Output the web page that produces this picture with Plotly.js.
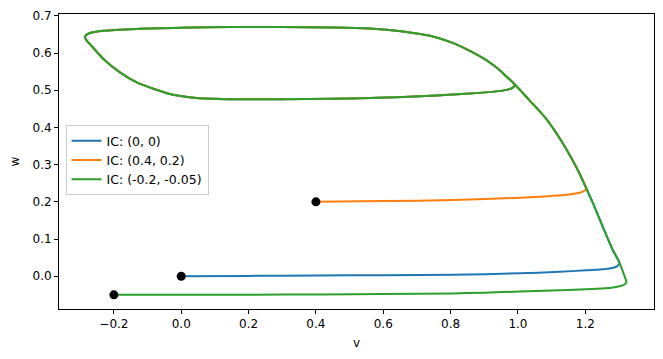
<!DOCTYPE html>
<html>
<head>
<meta charset="utf-8">
<script src="https://cdn.plot.ly/plotly-3.0.1.min.js"></script>
<style>html,body{margin:0;padding:0;background:#fff}#chart{width:663px;height:359px}</style>
</head>
<body>
<div id="chart"></div>
<script>
// Initial conditions
const icLabels = ["IC: (0, 0)", "IC: (0.4, 0.2)", "IC: (-0.2, -0.05)"];
const icV = [0, 0.4, -0.2];
const icW = [0, 0.2, -0.05];
const colors = ["#1f77b4", "#ff7f0e", "#2ca02c"];

// Transient parts
const blueV = [0, 0.2, 0.4, 0.6, 0.807, 1.005, 1.124, 1.203, 1.245, 1.272, 1.29, 1.297, 1.302];
const blueW = [0, 0.001, 0.002, 0.003, 0.004, 0.008, 0.012, 0.016, 0.018, 0.021, 0.025, 0.029, 0.035];
const orangeV = [0.4, 0.6, 0.807, 1.005, 1.1, 1.153, 1.188, 1.2, 1.203];
const orangeW = [0.2, 0.202, 0.205, 0.211, 0.216, 0.22, 0.226, 0.232, 0.236];
const greenV = [-0.2, 0.0, 0.2, 0.412, 0.6, 0.807, 0.9, 1.005, 1.1, 1.203, 1.26, 1.282, 1.302, 1.314, 1.321, 1.322, 1.317, 1.302];
const greenW = [-0.05, -0.0499, -0.0495, -0.049, -0.048, -0.046, -0.044, -0.041, -0.038, -0.035, -0.032, -0.03, -0.027, -0.023, -0.018, -0.014, -0.001, 0.035];

// Right branch going up
const branchV = [1.302, 1.282, 1.252, 1.223, 1.203, 1.178, 1.156, 1.134, 1.11, 1.084, 1.06, 1.035, 1.01, 0.985];
const branchW = [0.035, 0.07, 0.133, 0.196, 0.236, 0.285, 0.322, 0.356, 0.39, 0.423, 0.448, 0.472, 0.497, 0.521];

// Limit cycle
const cycleV = [0.985, 0.96, 0.936, 0.906, 0.857, 0.81, 0.758, 0.71, 0.659, 0.56, 0.45, 0.3, 0.145, 0.0, -0.132, -0.231, -0.271, -0.284, -0.286, -0.28, -0.271, -0.231, -0.182, -0.132, -0.083, -0.034, 0.046, 0.145, 0.3, 0.45, 0.56, 0.66, 0.758, 0.857, 0.936, 0.966, 0.985, 0.99, 0.988, 0.985];
const cycleW = [0.521, 0.542, 0.561, 0.581, 0.606, 0.626, 0.642, 0.651, 0.658, 0.666, 0.669, 0.67, 0.67, 0.668, 0.665, 0.66, 0.654, 0.647, 0.642, 0.633, 0.624, 0.584, 0.548, 0.521, 0.504, 0.49, 0.479, 0.476, 0.476, 0.477, 0.479, 0.482, 0.486, 0.491, 0.497, 0.501, 0.507, 0.513, 0.518, 0.521];

function branchFrom(wStart) {
  const v = [], w = [];
  for (let i = 0; i < branchV.length; i++) {
    if (branchW[i] > wStart) { v.push(branchV[i]); w.push(branchW[i]); }
  }
  return [v, w];
}

const trans = [[blueV, blueW], [orangeV, orangeW], [greenV, greenW]];
const traces = [];
for (let k = 0; k < 3; k++) {
  const [tv, tw] = trans[k];
  const [bv, bw] = branchFrom(tw[tw.length - 1]);
  traces.push({
    x: tv.concat(bv, cycleV), y: tw.concat(bw, cycleW),
    mode: "lines", type: "scatter", name: icLabels[k],
    line: {color: colors[k], width: 2, shape: "spline", smoothing: 0.7}
  });
}
for (let k = 0; k < 3; k++) {
  traces.push({
    x: [icV[k]], y: [icW[k]], mode: "markers", type: "scatter", showlegend: false,
    marker: {color: "black", size: 9}
  });
}

const font = {family: "DejaVu Sans, sans-serif", size: 12, color: "black"};
const legFont = {family: "DejaVu Sans, sans-serif", size: 12.5, color: "black"};
const xt = [-0.2, 0, 0.2, 0.4, 0.6, 0.8, 1.0, 1.2];
const yt = [0, 0.1, 0.2, 0.3, 0.4, 0.5, 0.6, 0.7];
const fmt = t => (t < 0 ? "\u2212" : "") + Math.abs(t).toFixed(1);

const layout = {
  width: 663, height: 359,
  margin: {l: 59, r: 9, t: 14, b: 50},
  paper_bgcolor: "white", plot_bgcolor: "white",
  font: font,
  showlegend: true,
  legend: {x: 0.011, y: 0.623, xanchor: "left", yanchor: "top",
    bgcolor: "rgba(255,255,255,0.8)", bordercolor: "#cccccc", borderwidth: 1,
    font: legFont, tracegroupgap: 0, itemwidth: 30},
  xaxis: {range: [-0.363, 1.404], tickvals: xt, ticktext: xt.map(fmt),
    showgrid: false, zeroline: false, showline: true, mirror: true, linecolor: "black", linewidth: 1,
    ticks: "outside", ticklen: 4, tickcolor: "black", tickwidth: 1,
    title: {text: "v", font: font, standoff: 8}},
  yaxis: {range: [-0.088, 0.705], tickvals: yt, ticktext: yt.map(fmt),
    showgrid: false, zeroline: false, showline: true, mirror: true, linecolor: "black", linewidth: 1,
    ticks: "outside", ticklen: 4, tickcolor: "black", tickwidth: 1,
    title: {text: "w", font: font, standoff: 10}}
};
Plotly.newPlot("chart", traces, layout, {displayModeBar: false, staticPlot: true});
</script>
</body>
</html>
